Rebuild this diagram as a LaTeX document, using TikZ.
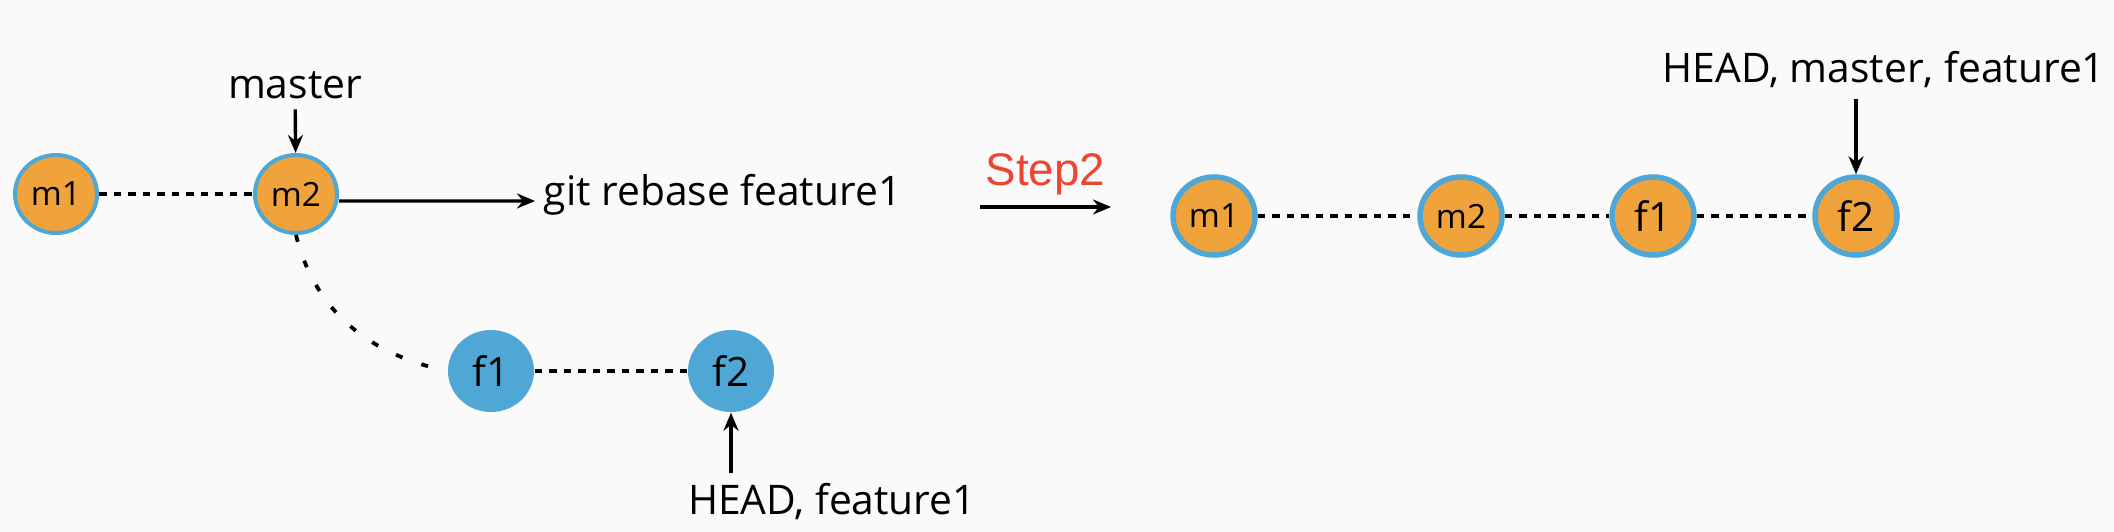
\documentclass[tikz,border=0pt]{standalone}
\usepackage{fontspec}
\setmainfont{Open Sans}
\newfontfamily\stepfont{Liberation Sans}
\usetikzlibrary{shapes.geometric,arrows.meta}
\definecolor{bg}{HTML}{FAFAFA}
\definecolor{commit}{HTML}{F0A33B}
\definecolor{branch}{HTML}{4EA7D5}
\definecolor{steptext}{HTML}{EE4430}
\begin{document}
\begin{tikzpicture}[
    commit/.style={ellipse,minimum width=.82cm,minimum height=.78cm,inner sep=0pt,
      fill=commit,draw=branch,line width=.04cm,font=\fontsize{9.5}{11}\selectfont},
    moved/.style={commit,line width=.055cm},
    bigtext/.style={font=\fontsize{11.5}{13}\selectfont},
    feat/.style={ellipse,minimum width=.86cm,minimum height=.82cm,inner sep=0pt,
      fill=branch,bigtext},
    tag/.style={font=\fontsize{11.6}{14}\selectfont,inner sep=.1cm},
    link/.style={line width=.034cm,dash pattern=on .075cm off .07cm},
    curve/.style={line width=.038cm,dash pattern=on .07cm off .2cm},
    arrow/.style={line width=.034cm,-{Stealth[length=.18cm,width=.15cm]}}]
      \fill[bg] (0,0) rectangle (21.14,-5.32);
      \useasboundingbox (0,0) rectangle (21.14,-5.32);
      \node[commit] (m1) at (.56,-1.94) {m1};
      \node[commit] (m2) at (2.96,-1.94) {m2};
      \node[feat] (f1) at (4.91,-3.71) {f1};
      \node[feat] (f2) at (7.31,-3.71) {f2};
      \node[tag] (master) at (2.95,-.85) {master};
      \node[tag,anchor=west,inner sep=.08cm] (rebase) at (5.35,-1.95) {git rebase feature1};
      \node[tag] (head1) at (8.32,-5.02) {HEAD, feature1};
      \draw[link] (m1) -- (m2);
      \draw[curve] (m2.south) to[out=-76,in=168] (f1.west);
      \draw[link] (f1) -- (f2);
      \draw[arrow] (master) -- (m2);
      \draw[arrow] ([yshift=-.07cm]m2.east) -- ([yshift=-.06cm]rebase.west);
      \draw[arrow] (head1.north -| f2) -- (f2);
      \coordinate (s0) at (9.8,-2.07);
      \coordinate (s1) at (11.11,-2.07);
      \draw[arrow] (s0) -- node[above,inner sep=.1cm,text=steptext,
        font=\stepfont\fontsize{13}{15}\selectfont] (step) {Step2} (s1);
      \node[moved] (m1r) at (12.14,-2.16) {m1};
      \node[moved] (m2r) at (14.61,-2.16) {m2};
      \node[moved,bigtext] (f1r) at (16.53,-2.16) {f1};
      \node[moved,bigtext] (f2r) at (18.56,-2.16) {f2};
      \node[tag] (head2) at (18.84,-.70) {HEAD, master, feature1};
      \draw[link] (m1r) -- (m2r);
      \draw[link] (m2r) -- (f1r);
      \draw[link] (f1r) -- (f2r);
      \draw[arrow] (head2.south -| f2r) -- (f2r);
    \end{tikzpicture}
\end{document}
